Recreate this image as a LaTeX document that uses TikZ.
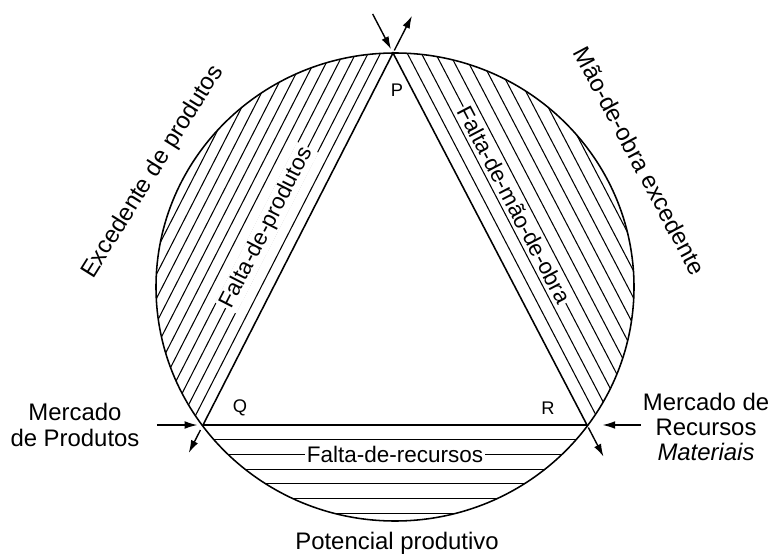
\documentclass[tikz,border=0pt]{standalone}
\usepackage{fontspec}
\setmainfont{Liberation Sans}
\usetikzlibrary{calc,arrows.meta}
\tikzset{>={Latex[length=9pt,width=5.5pt]}}
\tikzset{
  rim/.style={line width=1.1pt},
  hatch/.style={line width=0.75pt},
  flow/.style={->,line width=1pt},
  tag/.style={font=\fontsize{17}{18}\selectfont,align=center,inner sep=0pt},
  vtx/.style={font=\fontsize{13}{15}\selectfont,inner sep=0pt},
  onhatch/.style={font=\fontsize{16}{18}\selectfont,inner sep=1pt,fill=white,sloped},
}

\begin{document}
\begin{tikzpicture}[x=0.025cm,y=-0.025cm]
  \useasboundingbox (0,0) rectangle (773,557);

  \coordinate (O) at (395,287);
  \coordinate (P) at (393,53);
  \coordinate (Q) at (203,425);
  \coordinate (R) at (587,425);

  % hatching of the three segments
  \begin{scope}
    \clip (O) ellipse [x radius=239, y radius=234];
    \foreach \k in {1,...,11}{
      \pgfmathsetmacro\hoff{\k*0.275}
      \path ($(Q)!\hoff cm!90:(P)$) coordinate (a) ($(P)!\hoff cm!-90:(Q)$) coordinate (b);
      \draw[hatch] ($(a)!-0.3!(b)$) -- ($(b)!-0.3!(a)$);
    }
    \foreach \k in {1,...,11}{
      \pgfmathsetmacro\hoff{\k*0.3125}
      \path ($(P)!\hoff cm!90:(R)$) coordinate (a) ($(R)!\hoff cm!-90:(P)$) coordinate (b);
      \draw[hatch] ($(a)!-0.3!(b)$) -- ($(b)!-0.3!(a)$);
    }
    \foreach \k in {1,...,6}{
      \pgfmathsetmacro\hoff{\k*0.3675}
      \path ($(Q)!\hoff cm!-90:(R)$) coordinate (a) ($(R)!\hoff cm!90:(Q)$) coordinate (b);
      \draw[hatch] ($(a)!-0.3!(b)$) -- ($(b)!-0.3!(a)$);
    }
  \end{scope}

  \draw[rim] (O) ellipse [x radius=239, y radius=234];
  \draw[rim] (P) -- (Q) -- (R) -- cycle;

  % texts on the hatching
  \path ($(Q)!0.825cm!90:(P)$) coordinate (lq) ($(P)!0.825cm!-90:(Q)$) coordinate (lp);
  \path (lq) -- (lp) node[onhatch,pos=0.49] (fprod) {Falta-de-produtos};
  \path ($(P)!0.9375cm!90:(R)$) coordinate (mp) ($(R)!0.9375cm!-90:(P)$) coordinate (mr);
  \path (mp) -- (mr) node[onhatch,pos=0.455] (fmao) {Falta-de-mão-de-obra};
  \path ($(Q)!0.735cm!-90:(R)$) coordinate (rq) ($(R)!0.735cm!90:(Q)$) coordinate (rr);
  \path (rq) -- (rr) node[onhatch,midway] (frec) {Falta-de-recursos};

  % flows at the corners
  \coordinate (pin)  at ($(R)!1.105!(P)$);
  \coordinate (pout) at ($(Q)!1.1!(P)$);
  \coordinate (qin)  at ($(R)!1.12!(Q)$);
  \coordinate (qout) at ($(P)!1.075!(Q)$);
  \coordinate (rin)  at ($(Q)!1.14!(R)$);
  \coordinate (rout) at ($(P)!1.085!(R)$);
  \draw[flow,shorten >=3pt] (pin) -- (P);
  \draw[flow,shorten <=2pt] (P) -- (pout);
  \draw[flow,shorten >=4pt] (qin) -- (Q);
  \draw[flow,shorten <=4pt] (Q) -- (qout);
  \draw[flow,shorten >=11pt] (rin) -- (R);
  \draw[flow,shorten <=2pt] (R) -- (rout);

  \node[vtx] (p) at (397,90) {P};
  \node[vtx] (q) at (240,408) {Q};
  \node[vtx] (r) at (548,408) {R};

  \node[tag] (prod) at (75,425) {Mercado\\de Produtos};
  \node[tag] (mat) at (706,427) {Mercado de\\Recursos\\\textit{Materiais}};
  \node[tag] (pot) at (397,543) {Potencial produtivo};
  \node[tag,rotate=58] (exc) at (153,172) {Excedente de produtos};
  \node[tag,rotate=-62] (mao) at (640,161) {Mão-de-obra excedente};
\end{tikzpicture}
\end{document}
